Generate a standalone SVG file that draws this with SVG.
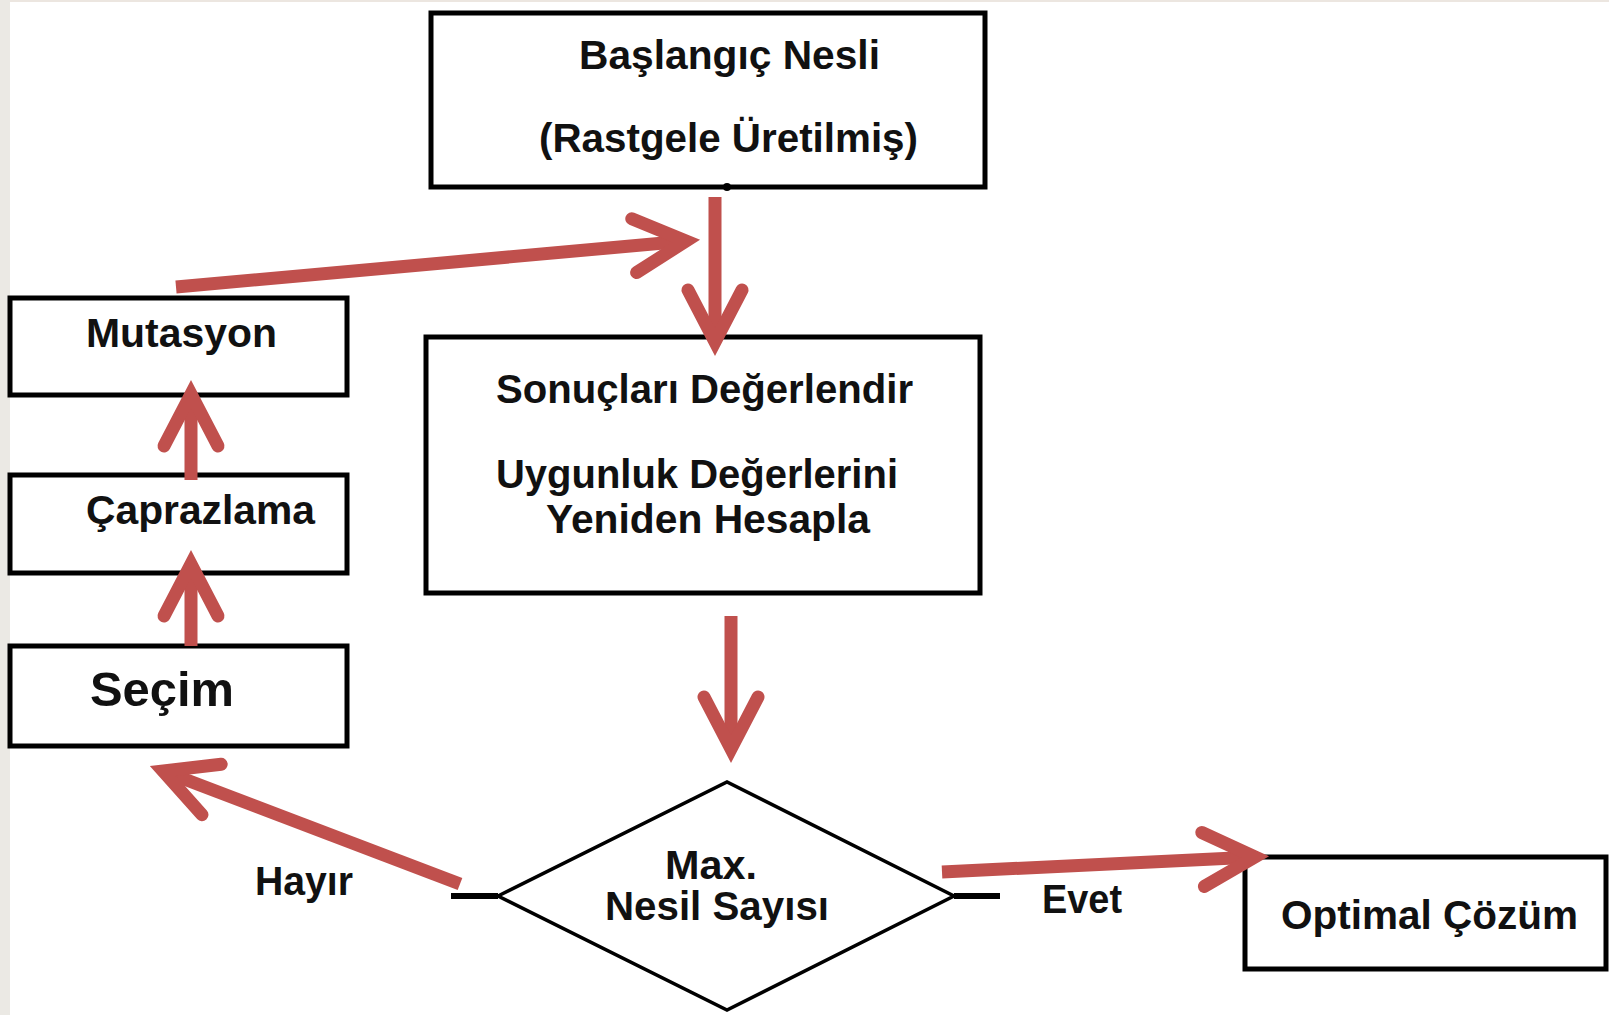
<svg xmlns="http://www.w3.org/2000/svg" width="1609" height="1015" viewBox="0 0 1609 1015">
<style>
.box{fill:#fff;stroke:#000;stroke-width:5}
.dia{fill:#fff;stroke:#000;stroke-width:3.5;stroke-linejoin:miter}
.stub{stroke:#000;stroke-width:6;fill:none}
.t{font-family:"Liberation Sans",Arial,sans-serif;font-weight:bold;font-size:40px;fill:#111}
.c{stroke:#C0504D;stroke-width:13;fill:none;stroke-linecap:butt}
</style>
<defs>
<marker id="ah" markerUnits="userSpaceOnUse" orient="auto" refX="0" refY="0" markerWidth="200" markerHeight="200" viewBox="-100 -100 200 200" overflow="visible">
<path d="M-52,-27 L0,0 L-52,27" fill="none" stroke="#C0504D" stroke-width="13" stroke-linecap="round" stroke-linejoin="miter" stroke-miterlimit="10"/>
</marker>
</defs>
<rect x="0" y="0" width="1609" height="1015" fill="#fff"/>
<rect x="0" y="0" width="10" height="1015" fill="#ebe9e4"/>
<rect x="10" y="0" width="1599" height="2" fill="#ece6e0"/>

<g id="start">
<rect class="box" x="431" y="13" width="554" height="174"/>
<circle cx="727" cy="187" r="4" fill="#000"/>
<text class="t" x="579" y="69" textLength="301" lengthAdjust="spacingAndGlyphs">Başlangıç Nesli</text>
<text class="t" x="539" y="152" textLength="379" lengthAdjust="spacingAndGlyphs">(Rastgele Üretilmiş)</text>
</g>
<g id="evaluate">
<rect class="box" x="426" y="337" width="554" height="256"/>
<text class="t" x="496" y="403" textLength="417" lengthAdjust="spacingAndGlyphs">Sonuçları Değerlendir</text>
<text class="t" x="496" y="488" textLength="402" lengthAdjust="spacingAndGlyphs">Uygunluk Değerlerini</text>
<text class="t" x="546" y="533" textLength="324" lengthAdjust="spacingAndGlyphs">Yeniden Hesapla</text>
</g>
<g id="mutasyon">
<rect class="box" x="10" y="298" width="337" height="97"/>
<text class="t" x="86" y="347" textLength="191" lengthAdjust="spacingAndGlyphs">Mutasyon</text>
</g>
<g id="caprazlama">
<rect class="box" x="10" y="475" width="337" height="98"/>
<text class="t" x="86" y="524" textLength="229" lengthAdjust="spacingAndGlyphs">Çaprazlama</text>
</g>
<g id="secim">
<rect class="box" x="10" y="646" width="337" height="100"/>
<text class="t" x="90" y="706" font-size="48" style="font-size:48px" textLength="144" lengthAdjust="spacingAndGlyphs">Seçim</text>
</g>
<g id="decision">
<line class="stub" x1="451" y1="896" x2="498" y2="896"/>
<line class="stub" x1="954" y1="896" x2="1000" y2="896"/>
<polygon class="dia" points="498,896 727,782 954,896 727,1010"/>
<text class="t" x="665" y="879" textLength="92" lengthAdjust="spacingAndGlyphs">Max.</text>
<text class="t" x="605" y="920" textLength="224" lengthAdjust="spacingAndGlyphs">Nesil Sayısı</text>
</g>
<g id="optimal">
<rect class="box" x="1245" y="857" width="361" height="112"/>
<text class="t" x="1281" y="929" textLength="297" lengthAdjust="spacingAndGlyphs">Optimal Çözüm</text>
</g>
<g id="labels">
<text class="t" x="255" y="895" textLength="98" lengthAdjust="spacingAndGlyphs">Hayır</text>
<text class="t" x="1042" y="913" textLength="80" lengthAdjust="spacingAndGlyphs">Evet</text>
</g>
<g id="connectors">
<path class="c" d="M176,287 L686,241" marker-end="url(#ah)"/>
<path class="c" d="M715,197 L715,342" marker-end="url(#ah)"/>
<path class="c" d="M191,480 L191,394" marker-end="url(#ah)"/>
<path class="c" d="M191,646 L191,564" marker-end="url(#ah)"/>
<path class="c" d="M731,616 L731,749" marker-end="url(#ah)"/>
<path class="c" d="M460,884 L163,771" marker-end="url(#ah)"/>
<path class="c" d="M942,872 L1255,857" marker-end="url(#ah)"/>
</g>
</svg>
